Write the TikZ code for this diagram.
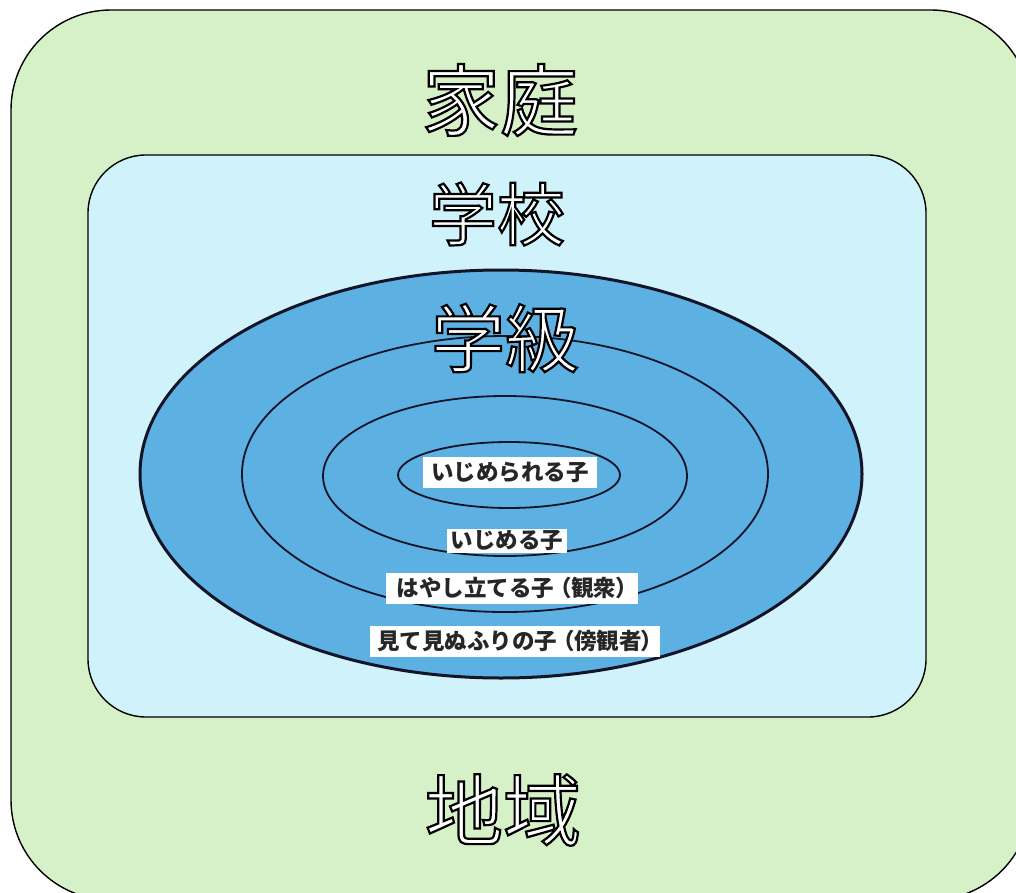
\documentclass[tikz,border=0pt]{standalone}
\usepackage{fontspec}
\usetikzlibrary{shapes.geometric}
\newfontfamily\cjk{Noto Sans CJK JP}
\definecolor{areagreen}{RGB}{214,240,200}
\definecolor{schoolblue}{RGB}{208,242,250}
\definecolor{classblue}{RGB}{92,176,226}
\definecolor{inkline}{RGB}{20,20,40}
\newcommand\outlinetxt[1]{\special{pdf:literal direct 0 G 2 Tr 2.2 w}#1\special{pdf:literal direct 0 Tr}}
\newcommand\np[1]{{\addfontfeature{RawFeature=+palt}#1}}
\tikzset{
  region/.style={draw=black, line width=1.4pt, inner sep=0pt},
  ring/.style={ellipse, draw=inkline, line width=1.8pt, inner sep=0pt},
  bigtitle/.style={text=white, inner sep=0pt, font=\cjk},
  childlabel/.style={fill=white, text=black!85, inner sep=0pt, minimum height=31pt, font=\cjk\bfseries\fontsize{22.5pt}{22.5pt}\selectfont}
}
\begin{document}
\begin{tikzpicture}[x=1pt, y=-1pt]
\useasboundingbox (0,0) rectangle (1016,893);
\node[region, fill=areagreen, rounded corners=100pt, minimum width=1020pt, minimum height=890pt] (area) at (521,455) {};
\node[region, fill=schoolblue, rounded corners=58pt, minimum width=838pt, minimum height=562pt] (school) at (507,436) {};
\node[ring, fill=classblue, line width=3pt, minimum width=722pt, minimum height=408pt] (e1) at (501,474) {};
\node[ring, minimum width=526pt, minimum height=276pt] (e2) at (505,474) {};
\node[ring, minimum width=364pt, minimum height=160pt] (e3) at (505,476) {};
\node[ring, minimum width=222pt, minimum height=66pt] (e4) at (509,475) {};

\node[bigtitle, font=\cjk\fontsize{78pt}{78pt}\selectfont] (home) at (500,100) {\outlinetxt{家庭}};
\node[bigtitle, font=\cjk\fontsize{68pt}{68pt}\selectfont] (schoolt) at (497,214) {\outlinetxt{学校}};
\node[bigtitle, font=\cjk\fontsize{74pt}{74pt}\selectfont] (classt) at (505,338) {\outlinetxt{学級}};
\node[bigtitle, font=\cjk\fontsize{78pt}{78pt}\selectfont] (areat) at (503,810) {\outlinetxt{地域}};

\node[childlabel, minimum width=174pt] (victim) at (510,472) {いじめられる子};
\node[childlabel, minimum width=120pt, minimum height=24pt] (bully) at (507,541) {いじめる子};
\node[childlabel, minimum width=252pt] (audience) at (512,588) {はやし立てる子\hspace{0.25em}\np{（}観衆\np{）}};
\node[childlabel, minimum width=290pt] (bystander) at (515,641) {見て見ぬふりの子\hspace{0.25em}\np{（}傍観者\np{）}};
\end{tikzpicture}
\end{document}
